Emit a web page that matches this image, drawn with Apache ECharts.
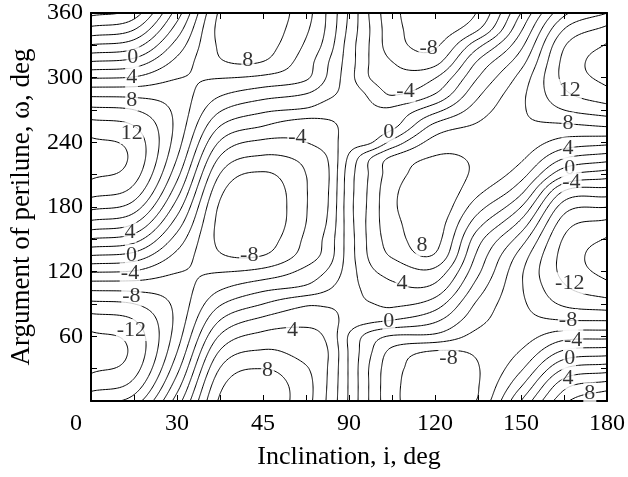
<!DOCTYPE html>
<html>
<head>
<meta charset="utf-8">
<script src="https://cdn.jsdelivr.net/npm/echarts@6/dist/echarts.min.js"></script>
<style>
  html, body { margin: 0; padding: 0; background: #fff; }
  #chart { width: 628px; height: 477px; }
</style>
</head>
<body>
<div id="chart"></div>
<script>
// Sample grid: inclination columns (deg) and argument-of-perilune rows (deg)
const inclinations = [0, 15, 30, 45, 60, 75, 82.5, 90, 97.5, 105, 120, 135, 150, 165, 180];
const perilunes = [0, 15, 30, 45, 60, 75, 90, 105, 120, 135, 150, 165, 180,
                   195, 210, 225, 240, 255, 270, 285, 300, 315, 330, 345, 360];

// Rate values along the perilune rows, one array per inclination column
const rateI0    = [-10.5,-12.86,-14.34,-14.85,-14.34,-12.86,-10.5,-7.43,-3.84,0,3.84,7.43,10.5,12.86,14.34,14.85,14.34,12.86,10.5,7.43,3.84,0,-3.84,-7.43,-10.5];
const rateI15   = [-9.03,-11.32,-12.84,-13.48,-13.2,-12.03,-10.03,-7.35,-4.17,-0.71,2.81,6.13,9.03,11.32,12.84,13.48,13.2,12.03,10.03,7.35,4.17,0.71,-2.81,-6.13,-9.03];
const rateI30   = [-1.04,-2.93,-4.62,-5.99,-6.95,-7.44,-7.43,-6.9,-5.91,-4.51,-2.81,-0.91,1.04,2.93,4.62,5.99,6.95,7.44,7.43,6.9,5.91,4.51,2.81,0.91,-1.04];
const rateI45   = [8.31,7.45,6.08,4.3,2.23,0,-2.23,-4.3,-6.08,-7.8,-8.5,-8.6,-8.31,-7.45,-6.08,-4.3,-2.23,0,2.23,4.3,6.08,7.8,8.31,8.6,8.31];
const rateI60   = [9.3,9.0,8.0,6.3,4.6,2.5,0.0,-2.6,-5.4,-8.0,-9.0,-9.6,-9.7,-9.4,-8.3,-6.4,-4.4,-2.0,0.4,2.9,5.6,8.0,8.8,9.2,9.3];
const rateI75   = [6.7,6.7,6.2,5.2,4.6,3.4,1.7,-1.6,-3.4,-5.1,-5.6,-6.0,-6.1,-6.1,-6.0,-5.5,-4.0,-3.3,-0.3,2.0,4.3,4.9,5.7,6.3,6.7];
const rateI82   = [3.75,3.9,4.0,4.1,3.6,2.9,1.7,-0.3,-1.8,-3.1,-3.3,-3.8,-4.1,-4.2,-4.3,-4.0,-3.0,-2.5,-1.1,0.6,1.8,2.2,3.1,3.6,3.75];
const rateI90   = [-0.25,-0.2,-0.2,-0.2,-0.2,1.2,1.6,1.3,1.0,1.0,1.0,1.1,1.2,1.1,1.0,0.4,-1.0,-1.5,-1.5,-0.9,-1.2,-1.0,-0.9,-0.5,-0.25];
const rateI97   = [-4.3,-4.3,-4.3,-3.8,-2.9,0.5,1.9,2.6,3.6,4.4,4.6,4.7,4.6,4.5,4.3,4.0,-0.2,-1.3,-1.7,-2.4,-4.1,-4.2,-4.2,-4.1,-4.3];
const rateI105  = [-7.4,-7.4,-7.2,-6.6,-4.2,0.0,2.4,3.6,4.6,6.2,6.9,7.3,7.6,7.5,7.0,6.4,2.6,-0.6,-1.6,-4.2,-5.4,-6.0,-7.0,-7.2,-7.4];
const rateI120  = [-9.3,-9.2,-9.1,-8.3,-4.5,-1.6,1.0,3.4,5.4,7.8,8.7,9.0,9.4,9.4,9.0,8.2,6.8,4.6,1.3,-2.0,-4.1,-6.7,-8.3,-9.0,-9.3];
const rateI135  = [-7.8,-8.1,-8.1,-7.7,-6.6,-5.4,-4.4,-3.0,-1.6,-0.5,0.8,2.8,4.8,6.5,7.5,7.7,7.3,6.3,5.0,3.6,2.0,0.2,-2.6,-6.2,-7.8];
const rateI150  = [0.0,-2.3,-4.3,-5.8,-6.8,-7.3,-7.6,-7.8,-7.7,-6.8,-5.0,-2.6,0.0,2.6,4.8,6.3,7.2,7.6,7.7,7.5,6.7,5.2,3.5,1.7,0.0];
const rateI165  = [7.5,5.2,2.0,-1.5,-4.8,-8.0,-10.3,-11.7,-12.6,-12.7,-12.2,-11.0,-9.0,-6.0,-1.6,2.0,5.2,7.6,10.0,11.6,12.5,12.5,11.8,10.0,7.5];
const rateI180  = [9.97,6.76,3.1,-0.78,-4.6,-8.11,-11.07,-13.28,-14.57,-14.88,-14.17,-12.5,-9.97,-6.76,-3.1,0.78,4.6,8.11,11.07,13.28,14.57,14.88,14.17,12.5,9.97];

// Contour levels and their inline labels [inclination, perilune, text]
const contourLevels = [-14, -12, -10, -8, -6, -4, -2, 0, 2, 4, 6, 8, 10, 12, 14];
const contourLabels = [
  [14.6, 319, '0'], [14.2, 300.5, '4'], [14.2, 279, '8'], [14.2, 248.6, '12'],
  [13.6, 157, '4'], [14.1, 135.4, '0'], [13.6, 118.5, '-4'], [14.1, 96.8, '-8'], [14.1, 65.9, '-12'],
  [54.7, 316, '8'], [117.8, 327, '-8'], [72, 245, '-4'], [103.9, 249.8, '0'], [109.7, 287, '-4'],
  [167, 288.5, '12'], [166.4, 257.6, '8'], [166.4, 234.4, '4'], [167, 215.9, '0'], [167.6, 203.4, '-4'],
  [55.2, 135.4, '-8'], [70.3, 65.9, '4'], [103.9, 73.6, '0'], [108.5, 109.2, '4'], [115.5, 144.7, '8'],
  [61.6, 28.8, '8'],
  [167, 109.2, '-12'], [166.4, 75.1, '-8'], [168.2, 56.6, '-4'], [167, 39.6, '0'], [166.4, 21, '4'],
  [174, 7.1, '8'], [124.7, 39.6, '-8']
];

// Bottom axis tick labels, one per 30 deg step; left axis labels per 60 deg
const xTickLabels = ['0', '30', '45', '90', '120', '150', '180'];
const yTickLabels = ['', '60', '120', '180', '240', '300', '360'];

const columns = [rateI0, rateI15, rateI30, rateI45, rateI60, rateI75, rateI82, rateI90,
                 rateI97, rateI105, rateI120, rateI135, rateI150, rateI165, rateI180];

// ---- smooth resampling: periodic Catmull-Rom along perilune, Hermite across inclination
function cr(p0, p1, p2, p3, t) {
  return 0.5 * (2 * p1 + (-p0 + p2) * t + (2 * p0 - 5 * p1 + 4 * p2 - p3) * t * t +
                (-p0 + 3 * p1 - 3 * p2 + p3) * t * t * t);
}
const nRow = perilunes.length - 1;          // unique rows (360 == 0)
const dW = perilunes[1] - perilunes[0];
function colVal(arr, w) {
  const v = w / dW;
  const r = Math.floor(v), s = v - r;
  const g = k => arr[((k % nRow) + nRow) % nRow];
  return cr(g(r - 1), g(r), g(r + 1), g(r + 2), s);
}

const step = 1;
const xs = [], ys = [];
for (let x = 0; x <= 180 + 1e-9; x += step) xs.push(+x.toFixed(4));
for (let y = 0; y <= 360 + 1e-9; y += step) ys.push(+y.toFixed(4));

const nC = inclinations.length;
const F = xs.map(() => new Array(ys.length));
ys.forEach((w, b) => {
  const p = columns.map(arr => colVal(arr, w));
  const m = p.map((_, j) => {
    if (j === 0) return (p[1] - p[0]) / (inclinations[1] - inclinations[0]);
    if (j === nC - 1) return (p[nC - 1] - p[nC - 2]) / (inclinations[nC - 1] - inclinations[nC - 2]);
    return (p[j + 1] - p[j - 1]) / (inclinations[j + 1] - inclinations[j - 1]);
  });
  let k = 0;
  xs.forEach((x, a) => {
    while (k < nC - 2 && x > inclinations[k + 1]) k++;
    const h = inclinations[k + 1] - inclinations[k];
    const t = (x - inclinations[k]) / h;
    const t2 = t * t, t3 = t2 * t;
    F[a][b] = (2 * t3 - 3 * t2 + 1) * p[k] + (t3 - 2 * t2 + t) * h * m[k] +
              (-2 * t3 + 3 * t2) * p[k + 1] + (t3 - t2) * h * m[k + 1];
  });
});

// ---- marching squares, segments joined into polylines
function contour(level) {
  const segs = [];
  const nx = xs.length, ny = ys.length;
  for (let a = 0; a < nx - 1; a++) {
    for (let b = 0; b < ny - 1; b++) {
      const v0 = F[a][b], v1 = F[a + 1][b], v2 = F[a + 1][b + 1], v3 = F[a][b + 1];
      const idx = (v0 >= level ? 1 : 0) | (v1 >= level ? 2 : 0) | (v2 >= level ? 4 : 0) | (v3 >= level ? 8 : 0);
      if (idx === 0 || idx === 15) continue;
      const edge = e => {
        let pa, pb, va, vb, key;
        if (e === 0) { pa = [xs[a], ys[b]]; pb = [xs[a + 1], ys[b]]; va = v0; vb = v1; key = 'h' + a + '_' + b; }
        else if (e === 1) { pa = [xs[a + 1], ys[b]]; pb = [xs[a + 1], ys[b + 1]]; va = v1; vb = v2; key = 'v' + (a + 1) + '_' + b; }
        else if (e === 2) { pa = [xs[a], ys[b + 1]]; pb = [xs[a + 1], ys[b + 1]]; va = v3; vb = v2; key = 'h' + a + '_' + (b + 1); }
        else { pa = [xs[a], ys[b]]; pb = [xs[a], ys[b + 1]]; va = v0; vb = v3; key = 'v' + a + '_' + b; }
        const t = (level - va) / (vb - va);
        return { key, p: [pa[0] + t * (pb[0] - pa[0]), pa[1] + t * (pb[1] - pa[1])] };
      };
      const center = (v0 + v1 + v2 + v3) / 4 >= level;
      let pairs;
      switch (idx) {
        case 1: case 14: pairs = [[3, 0]]; break;
        case 2: case 13: pairs = [[0, 1]]; break;
        case 3: case 12: pairs = [[3, 1]]; break;
        case 4: case 11: pairs = [[1, 2]]; break;
        case 6: case 9: pairs = [[0, 2]]; break;
        case 7: case 8: pairs = [[3, 2]]; break;
        case 5: pairs = center ? [[0, 1], [2, 3]] : [[3, 0], [1, 2]]; break;
        case 10: pairs = center ? [[3, 0], [1, 2]] : [[0, 1], [2, 3]]; break;
      }
      pairs.forEach(([e1, e2]) => {
        const A = edge(e1), B = edge(e2);
        segs.push({ k1: A.key, p1: A.p, k2: B.key, p2: B.p });
      });
    }
  }
  const byKey = new Map();
  segs.forEach((s, i) => {
    [s.k1, s.k2].forEach(k => { if (!byKey.has(k)) byKey.set(k, []); byKey.get(k).push(i); });
  });
  const used = new Uint8Array(segs.length);
  const lines = [];
  const walk = (key, add) => {
    for (;;) {
      const list = byKey.get(key) || [];
      let nxt = -1;
      for (const j of list) if (!used[j]) { nxt = j; break; }
      if (nxt < 0) return;
      used[nxt] = 1;
      const s = segs[nxt];
      if (s.k1 === key) { add(s.p2); key = s.k2; } else { add(s.p1); key = s.k1; }
    }
  };
  for (let i = 0; i < segs.length; i++) {
    if (used[i]) continue;
    used[i] = 1;
    const pts = [segs[i].p1, segs[i].p2];
    walk(segs[i].k2, p => pts.push(p));
    walk(segs[i].k1, p => pts.unshift(p));
    lines.push(pts);
  }
  return lines;
}

const contourData = [];
contourLevels.forEach(lv => contour(lv).forEach(pts => contourData.push({ coords: pts })));

const FONT = 'Liberation Serif';
const chart = echarts.init(document.getElementById('chart'), null, { renderer: 'canvas' });

const baseAxis = {
  axisLine: { show: true, onZero: false, lineStyle: { color: '#000', width: 2 } },
  axisTick: { show: true, inside: true, length: 6, lineStyle: { color: '#000', width: 1 } },
  minorTick: { show: true, splitNumber: 2, length: 6, lineStyle: { color: '#000', width: 1 } },
  splitLine: { show: false },
  minorSplitLine: { show: false }
};

chart.setOption({
  animation: false,
  backgroundColor: '#fff',
  grid: { left: 91, right: 19, top: 13, bottom: 76 },
  xAxis: [
    Object.assign({}, baseAxis, {
      type: 'value', position: 'bottom', min: 0, max: 180, interval: 30,
      axisLabel: {
        show: true, margin: 11, color: '#000', fontFamily: FONT, fontSize: 24,
        formatter: v => {
          const t = xTickLabels[Math.round(v / 30)];
          return v === 0 ? '{first|' + t + '}' : t;
        },
        rich: { first: { fontFamily: FONT, fontSize: 24, color: '#000', padding: [0, 30, 0, 0] } }
      },
      name: 'Inclination, i, deg', nameLocation: 'middle', nameGap: 43,
      nameTextStyle: { color: '#000', fontFamily: FONT, fontSize: 26 }
    }),
    Object.assign({}, baseAxis, {
      type: 'value', position: 'top', min: 0, max: 180, interval: 30,
      axisLabel: { show: false }
    })
  ],
  yAxis: [
    Object.assign({}, baseAxis, {
      type: 'value', position: 'left', min: 0, max: 360, interval: 60,
      axisLabel: {
        show: true, margin: 8, color: '#000', fontFamily: FONT, fontSize: 24,
        formatter: v => yTickLabels[Math.round(v / 60)]
      },
      name: 'Argument of perilune, \u03c9, deg', nameLocation: 'middle', nameGap: 56,
      nameTextStyle: { color: '#000', fontFamily: FONT, fontSize: 27 }
    }),
    Object.assign({}, baseAxis, {
      type: 'value', position: 'right', min: 0, max: 360, interval: 60,
      axisLabel: { show: false }
    })
  ],
  series: [
    {
      type: 'lines',
      coordinateSystem: 'cartesian2d',
      xAxisIndex: 0, yAxisIndex: 0,
      polyline: true,
      silent: true,
      lineStyle: { color: '#000', width: 1, opacity: 1 },
      data: contourData,
      z: 2
    },
    {
      type: 'scatter',
      xAxisIndex: 0, yAxisIndex: 0,
      symbolSize: 0,
      silent: true,
      data: contourLabels.map(d => [d[0], d[1], d[2]]),
      label: {
        show: true, position: 'inside', color: '#000', fontFamily: FONT, fontSize: 22,
        backgroundColor: '#fff', padding: [0, 1],
        formatter: p => p.value[2]
      },
      z: 5
    }
  ]
});
</script>
</body>
</html>
